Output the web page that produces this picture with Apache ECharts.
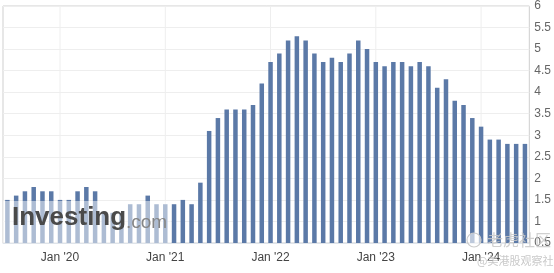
<!DOCTYPE html>
<html><head><meta charset="utf-8">
<script src="https://cdn.jsdelivr.net/npm/echarts@6/dist/echarts.min.js"></script>
<style>html,body{margin:0;padding:0;background:#fff}#c{width:554px;height:273px}</style>
</head><body><div id="c"></div>
<script>
const categories = [
  "Jul '19","Aug '19","Sep '19","Oct '19","Nov '19","Dec '19",
  "Jan '20","Feb '20","Mar '20","Apr '20","May '20","Jun '20","Jul '20","Aug '20","Sep '20","Oct '20","Nov '20","Dec '20",
  "Jan '21","Feb '21","Mar '21","Apr '21","May '21","Jun '21","Jul '21","Aug '21","Sep '21","Oct '21","Nov '21","Dec '21",
  "Jan '22","Feb '22","Mar '22","Apr '22","May '22","Jun '22","Jul '22","Aug '22","Sep '22","Oct '22","Nov '22","Dec '22",
  "Jan '23","Feb '23","Mar '23","Apr '23","May '23","Jun '23","Jul '23","Aug '23","Sep '23","Oct '23","Nov '23","Dec '23",
  "Jan '24","Feb '24","Mar '24","Apr '24","May '24","Jun '24"
];
const values = [
  1.5,1.6,1.7,1.8,1.7,1.7,
  1.5,1.5,1.7,1.8,1.7,1.2,1.2,1.2,1.4,1.4,1.6,1.4,
  1.4,1.4,1.5,1.4,1.9,3.1,3.4,3.6,3.6,3.6,3.7,4.2,
  4.7,4.9,5.2,5.3,5.2,4.9,4.7,4.8,4.7,4.9,5.2,5.0,
  4.7,4.6,4.7,4.7,4.6,4.7,4.6,4.1,4.3,3.8,3.7,3.4,
  3.2,2.9,2.9,2.8,2.8,2.8
];
const xTickLabels = ["Jan '20","Jan '21","Jan '22","Jan '23","Jan '24"];
const yMin = 0.5, yMax = 6, yStep = 0.5;

const chart = echarts.init(document.getElementById('c'), null, {renderer:'canvas'});
chart.setOption({
  animation:false,
  grid:{left:3, right:23, top:2, bottom:30, show:true, borderColor:'#cfcfcf', borderWidth:1},
  xAxis:{
    type:'category', data:categories,
    axisLine:{lineStyle:{color:'#dfe4ea'}},
    axisTick:{show:false},
    splitLine:{show:false},
    axisLabel:{
      interval:(i,v)=>xTickLabels.indexOf(v)>=0,
      color:'#444', fontSize:12, fontFamily:'Liberation Sans', margin:9
    }
  },
  yAxis:{
    type:'value', position:'right', min:yMin, max:yMax, interval:yStep,
    axisLine:{show:false}, axisTick:{show:false},
    splitLine:{lineStyle:{color:'#eeeeee'}},
    axisLabel:{color:'#666', fontSize:12, fontFamily:'Liberation Sans', margin:5}
  },
  series:[
    {
      type:'custom', z:1, silent:true,
      data:xTickLabels.map(l=>[l, yMin]),
      encode:{x:0,y:1},
      renderItem:(params, api)=>{
        const x = api.coord([api.value(0), yMin])[0];
        const cs = params.coordSys;
        return {type:'line', shape:{x1:x,y1:cs.y,x2:x,y2:cs.y+cs.height}, style:{stroke:'#eeeeee', lineWidth:1}};
      }
    },
    {
      type:'bar', z:2, data:values, barWidth:4.5,
      itemStyle:{color:'#5b79a7'}
    }
  ],
  graphic:[
    {type:'rect', z:10, shape:{x:3, y:201, width:168, height:42}, style:{fill:'rgba(255,255,255,0.5)'}},
    {type:'text', z:11, x:12, y:231, style:{text:'Investing', font:'bold 26px "Liberation Sans"', fill:'#4a4a4a', textVerticalAlign:'bottom'}},
    {type:'text', z:11, x:126, y:232, style:{text:'.com', font:'19px "Liberation Sans"', fill:'#858585', textVerticalAlign:'bottom'}},
    {type:'circle', z:11, shape:{cx:474, cy:240, r:7}, style:{fill:'rgba(255,255,255,0.6)', stroke:'#cccccc', lineWidth:1.2}},
    {type:'text', z:11, x:487, y:240, style:{text:'老虎社区', font:'16px "Noto Sans CJK SC"', fill:'rgba(200,200,200,0.85)', textVerticalAlign:'middle'}},
    {type:'text', z:11, x:477, y:261, style:{text:'@美港股观察社', font:'11px "Noto Sans CJK SC"', fill:'rgba(195,195,195,0.9)', textVerticalAlign:'middle'}}
  ]
});
</script></body></html>
